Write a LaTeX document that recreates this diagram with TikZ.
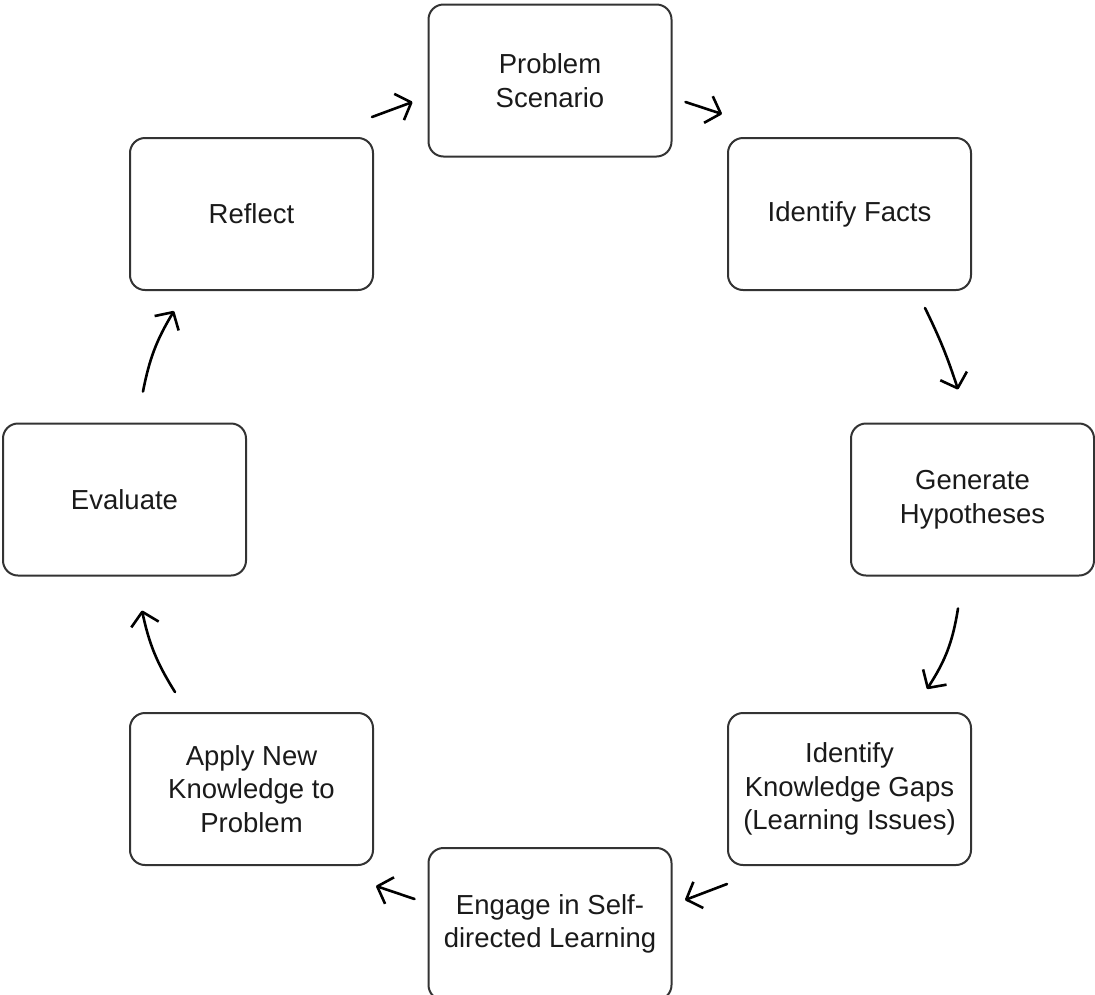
\documentclass[tikz,border=0pt]{standalone}
\usepackage{fontspec}
\setmainfont{Liberation Sans}
\usetikzlibrary{arrows.meta,calc}
\definecolor{boxline}{HTML}{333333}
\definecolor{ink}{HTML}{1A1A1A}
\begin{document}
\begin{tikzpicture}[x=1pt,y=-1pt,
  stage/.style={draw=boxline, line width=2pt, rounded corners=15pt,
    minimum width=243pt, minimum height=152pt, align=center, text=ink,
    font=\fontsize{27.5}{33.5}\selectfont, inner sep=0pt},
  flow/.style={draw=black, line width=2.6pt, line cap=round,
    -{Straight Barb[length=13pt,width=28pt,line join=round]}}]
  \useasboundingbox (0,0) rectangle (1095,994);
  \clip (0,0) rectangle (1095,994);

  % the eight stages of the cycle
  \node[stage] (problem) at (550,80.5)  {Problem\\Scenario};
  \node[stage] (facts)   at (849.5,214) {Identify Facts};
  \node[stage] (hyp)     at (972.5,499.5) {Generate\\Hypotheses};
  \node[stage] (gaps)    at (849.5,789) {Identify\\Knowledge Gaps\\(Learning Issues)};
  \node[stage] (engage)  at (550,924)   {Engage in Self-\\directed Learning};
  \node[stage] (apply)   at (251.5,789) {Apply New\\Knowledge to\\Problem};
  \node[stage] (eval)    at (124.5,499.5) {Evaluate};
  \node[stage] (reflect) at (251.5,214) {Reflect};

  % clockwise arrows between neighbouring stages
  \draw[flow] ($(reflect.north east)+(-2,-20)$) -- ($(problem.west)+(-15,21.5)$);
  \draw[flow] ($(problem.east)+(13,21.5)$) -- ($(facts.north west)+(-5,-23)$);
  \draw[flow] ($(facts.south)+(75.5,17)$) to[bend left=4] ($(hyp.north)+(-14.5,-33)$);
  \draw[flow] ($(hyp.south)+(-14.5,32)$) to[bend left=12] ($(gaps.north)+(77.5,-23)$);
  \draw[flow] ($(gaps.south west)+(0,18)$) -- ($(engage.east)+(12.5,-24)$);
  \draw[flow] ($(engage.west)+(-13,-25)$) -- ($(apply.south east)+(2,20)$);
  \draw[flow] ($(apply.north)+(-76.5,-20)$) to[bend left=10] ($(eval.south)+(17.5,34)$);
  \draw[flow] ($(eval.north)+(18.5,-31)$) to[bend left=10] ($(reflect.south)+(-77.5,20)$);
\end{tikzpicture}
\end{document}
